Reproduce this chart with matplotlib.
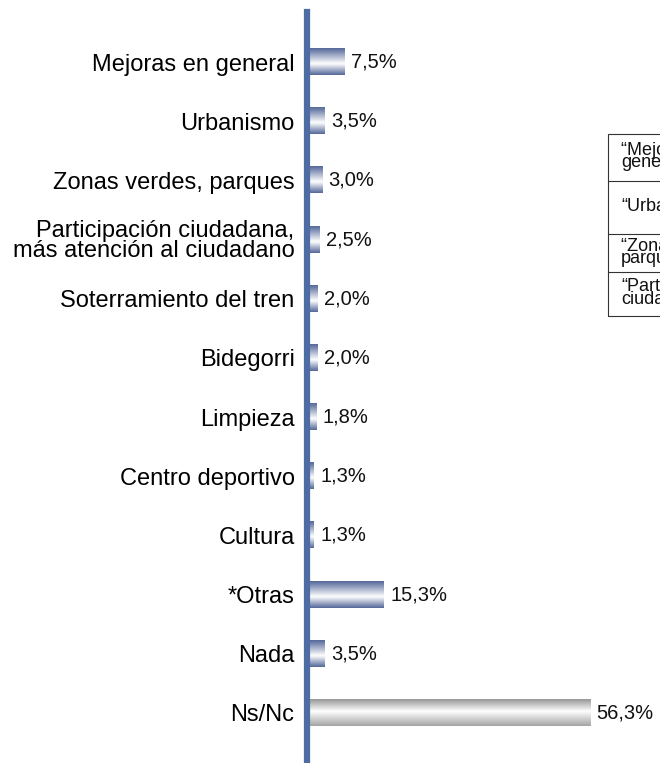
import numpy as np
import matplotlib
matplotlib.use('Agg')
import matplotlib.pyplot as plt
from matplotlib.colors import LinearSegmentedColormap
from matplotlib.patches import Rectangle

plt.rcParams['font.family'] = ['Liberation Sans', 'DejaVu Sans']

categories = ['Mejoras en general', 'Urbanismo', 'Zonas verdes, parques',
              'Participación ciudadana,\nmás atención al ciudadano',
              'Soterramiento del tren', 'Bidegorri', 'Limpieza',
              'Centro deportivo', 'Cultura', '*Otras', 'Nada', 'Ns/Nc']
values = [7.5, 3.5, 3.0, 2.5, 2.0, 2.0, 1.8, 1.3, 1.3, 15.3, 3.5, 56.3]
value_labels = ['7,5%', '3,5%', '3,0%', '2,5%', '2,0%', '2,0%', '1,8%',
                '1,3%', '1,3%', '15,3%', '3,5%', '56,3%']
table_texts = ['\u201cMejoras en\ngeneral\u201d', '\u201cUrbanismo\u201d',
               '\u201cZonas verdes,\nparques\u201d',
               '\u201cParticipación\nciudadana\u201d']

W, H = 660, 763
fig = plt.figure(figsize=(W / 100, H / 100), dpi=100)
ax = fig.add_axes([307 / W, 0, 1 - 307 / W, (H - 12) / H])

blue_cmap = LinearSegmentedColormap.from_list(
    'bl', [(0, '#55689a'), (0.58, '#ffffff'), (1, '#55689a')])
gray_cmap = LinearSegmentedColormap.from_list(
    'gr', [(0, '#989898'), (0.45, '#ffffff'), (1, '#a4a4a4')])
grad = np.linspace(0, 1, 64).reshape(-1, 1)

y = np.arange(len(categories))
bars = ax.barh(y, values, height=0.44, color='none', edgecolor='none')
for i, b in enumerate(bars):
    cmap = gray_cmap if categories[i] == 'Ns/Nc' else blue_cmap
    x0, y0, w, h = b.get_x(), b.get_y(), b.get_width(), b.get_height()
    ax.imshow(grad, extent=[x0, x0 + w, y0 + h, y0], aspect='auto',
              cmap=cmap, interpolation='bicubic', zorder=2)
    ax.text(values[i] + 1.3, y[i], value_labels[i], va='center', ha='left',
            fontsize=14.5, color='#111111')

ax.set_xlim(0, (W - 307) / 5.03)
ax.set_ylim(11.845, -0.845)
ax.set_yticks(y)
ax.set_yticklabels(categories, fontsize=17, linespacing=0.88)
ax.tick_params(axis='y', length=0, pad=9)
ax.set_xticks([])
for s in ['top', 'right', 'bottom']:
    ax.spines[s].set_visible(False)
ax.spines['left'].set_color('#4d6ca3')
ax.spines['left'].set_linewidth(4.5)
ax.set_facecolor('none')

# partially visible note box on the right
rows = [134, 181, 234, 272, 316]
fig.patches.append(Rectangle((608 / W, 1 - rows[-1] / H), 1, (rows[-1] - rows[0]) / H,
                             transform=fig.transFigure, fill=False,
                             edgecolor='#333333', linewidth=0.8))
for k, txt in enumerate(table_texts):
    if k > 0:
        fig.add_artist(plt.Line2D([608 / W, 1], [1 - rows[k] / H] * 2,
                                  transform=fig.transFigure,
                                  color='#333333', linewidth=0.8))
    yc = (rows[k] + rows[k + 1]) / 2 - 1
    fig.text(621 / W, 1 - yc / H, txt, fontsize=13, va='center', ha='left',
             linespacing=0.66, color='#111111')

fig.savefig('out.png', dpi=100)
